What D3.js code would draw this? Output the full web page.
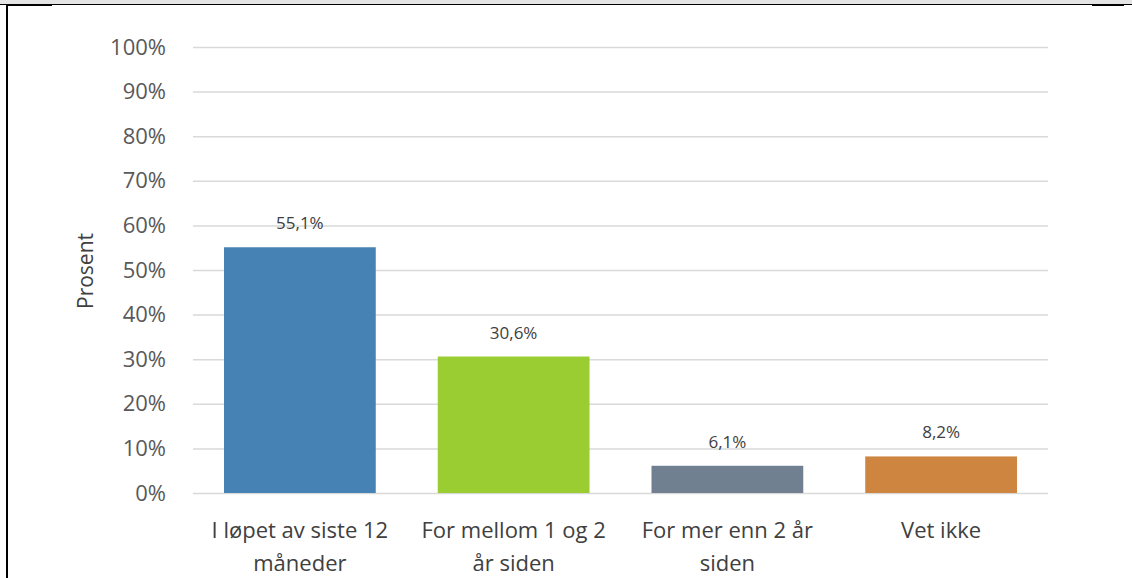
<!DOCTYPE html>
<html>
<head>
<meta charset="utf-8">
<script src="https://cdn.jsdelivr.net/npm/d3@7"></script>
<style>
  body { margin: 0; background: #fff; }
  svg { display: block; font-family: "Open Sans", "Liberation Sans", Arial, sans-serif; }
</style>
</head>
<body>
<script>
// chart data
const categories = [
    ['I løpet av siste 12', 'måneder'],
    ['For mellom 1 og 2', 'år siden'],
    ['For mer enn 2 år', 'siden'],
    ['Vet ikke']
];
const values = [55.1, 30.6, 6.1, 8.2];
const barColors = ['#4682b4', '#9acd32', '#708090', '#cd853f'];
const yTicks = [0, 10, 20, 30, 40, 50, 60, 70, 80, 90, 100];

const width = 1132, height = 578;
const plot = { left: 193, right: 1048, top: 47, bottom: 493 };

const svg = d3.select('body').append('svg').
    attr('width', width).
    attr('height', height);

// frame pieces of the screenshot
svg.append('rect').attr('x', 0).attr('y', 0).attr('width', width).attr('height', 4).attr('fill', '#e4e4e4');
svg.append('rect').attr('x', 0).attr('y', 4).attr('width', width).attr('height', 1).attr('fill', '#000');
svg.append('rect').attr('x', 8).attr('y', 4).attr('width', 44).attr('height', 2).attr('fill', '#000');
svg.append('rect').attr('x', 1092).attr('y', 4).attr('width', 32).attr('height', 2).attr('fill', '#000');
svg.append('rect').attr('x', 6).attr('y', 4).attr('width', 2).attr('height', height - 4).attr('fill', '#000');

const x = d3.scaleBand().
    domain(d3.range(categories.length)).
    range([plot.left, plot.right]).
    paddingInner(0.29).
    paddingOuter(0.145);

const y = d3.scaleLinear().
    domain([0, 100]).
    range([plot.bottom, plot.top]);

// gridlines + tick labels
const yAxis = svg.append('g').
    attr('transform', `translate(${plot.left},0)`).
    call(d3.axisLeft(y).tickValues(yTicks).tickFormat(d => d + '%').tickSize(-(plot.right - plot.left)).tickPadding(27));
yAxis.select('.domain').remove();
yAxis.selectAll('.tick line').attr('stroke', '#d9d9d9').attr('stroke-width', 1.5);
yAxis.selectAll('.tick text').
    attr('fill', '#595959').
    style('font-family', 'Open Sans').
    style('font-size', '22px');

svg.append('text').
    attr('transform', `translate(93,271) rotate(-90)`).
    attr('text-anchor', 'middle').
    attr('fill', '#404040').
    style('font-size', '21px').
    text('Prosent');

// bars
svg.append('g').selectAll('rect').
    data(values).
    join('rect').
    attr('x', (d, i) => x(i)).
    attr('y', d => y(d)).
    attr('width', x.bandwidth()).
    attr('height', d => y(0) - y(d)).
    attr('fill', (d, i) => barColors[i]);

// value labels
svg.append('g').selectAll('text').
    data(values).
    join('text').
    attr('x', (d, i) => x(i) + x.bandwidth() / 2).
    attr('y', d => y(d) - 18).
    attr('text-anchor', 'middle').
    attr('fill', '#404040').
    style('font-size', '17px').
    text(d => d.toFixed(1).replace('.', ',') + '%');

// category labels
const catLabels = svg.append('g').selectAll('text').
    data(categories).
    join('text').
    attr('x', (d, i) => x(i) + x.bandwidth() / 2).
    attr('y', 538).
    attr('text-anchor', 'middle').
    attr('fill', '#404040').
    style('font-size', '22px');
catLabels.selectAll('tspan').
    data(d => d).
    join('tspan').
    attr('x', function () { return this.parentNode.getAttribute('x'); }).
    attr('dy', (d, i) => i ? 33 : 0).
    text(d => d);
</script>
</body>
</html>
